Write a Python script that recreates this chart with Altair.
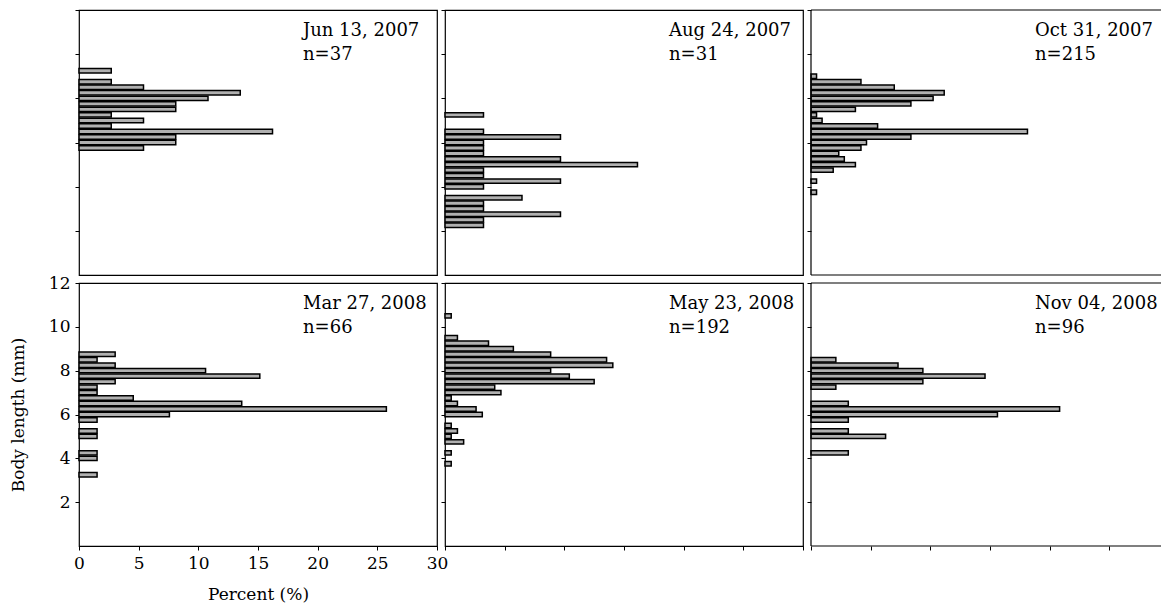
import altair as alt
import pandas as pd

FONT = "DejaVu Serif"

# ---- panel metadata ----
dates = ["Jun 13, 2007", "Aug 24, 2007", "Oct 31, 2007",
         "Mar 27, 2008", "May 23, 2008", "Nov 04, 2008"]
sizes = [37, 31, 215, 66, 192, 96]

# ---- body-length classes (mm) and counts ----
jun_len = [9.25, 8.75, 8.5, 8.25, 8.0, 7.75, 7.5, 7.25, 7.0, 6.75, 6.5, 6.25, 6.0, 5.75]
jun_cnt = [1, 1, 2, 5, 4, 3, 3, 1, 2, 1, 6, 3, 3, 2]

aug_len = [7.25, 6.5, 6.25, 6.0, 5.75, 5.5, 5.25, 5.0, 4.75, 4.5, 4.25, 4.0,
           3.5, 3.25, 3.0, 2.75, 2.5, 2.25]
aug_cnt = [1, 1, 3, 1, 1, 1, 3, 5, 1, 1, 3, 1, 2, 1, 1, 3, 1, 1]

oct_len = [9.0, 8.75, 8.5, 8.25, 8.0, 7.75, 7.5, 7.25, 7.0, 6.75, 6.5, 6.25,
           6.0, 5.75, 5.5, 5.25, 5.0, 4.75, 4.25, 3.75]
oct_cnt = [1, 9, 15, 24, 22, 18, 8, 1, 2, 12, 39, 18, 10, 9, 5, 6, 8, 4, 1, 1]

mar_len = [8.75, 8.5, 8.25, 8.0, 7.75, 7.5, 7.25, 7.0, 6.75, 6.5, 6.25, 6.0,
           5.75, 5.25, 5.0, 4.25, 4.0, 3.25]
mar_cnt = [2, 1, 2, 7, 10, 2, 1, 1, 3, 9, 17, 5, 1, 1, 1, 1, 1, 1]

may_len = [10.5, 9.5, 9.25, 9.0, 8.75, 8.5, 8.25, 8.0, 7.75, 7.5, 7.25, 7.0,
           6.75, 6.5, 6.25, 6.0, 5.5, 5.25, 5.0, 4.75, 4.25, 3.75]
may_cnt = [1, 2, 7, 11, 17, 26, 27, 17, 20, 24, 8, 9, 1, 2, 5, 6, 1, 2, 1, 3, 1, 1]

nov_len = [8.5, 8.25, 8.0, 7.75, 7.5, 7.25, 6.5, 6.25, 6.0, 5.75, 5.25, 5.0, 4.25]
nov_cnt = [2, 7, 9, 14, 9, 2, 3, 20, 15, 3, 3, 6, 3]

x_ticks = [0, 5, 10, 15, 20, 25, 30]
y_ticks = [2, 4, 6, 8, 10, 12]

series = [(jun_len, jun_cnt), (aug_len, aug_cnt), (oct_len, oct_cnt),
          (mar_len, mar_cnt), (may_len, may_cnt), (nov_len, nov_cnt)]

W = 358
H_TOP, H_BOTTOM = 265, 263
W_RIGHT = 350          # right column is cut off by the page edge in the original
X_MAX = 30


def panel(i):
    lengths, counts = series[i]
    n = sizes[i]
    row, col = divmod(i, 3)
    df = pd.DataFrame({"length": lengths, "count": counts})
    w = W_RIGHT if col == 2 else W
    h = H_TOP if row == 0 else H_BOTTOM
    xmax = X_MAX * w / W

    first = (row == 1 and col == 0)
    if row == 1:
        x_axis = alt.Axis(values=x_ticks, labels=first, title="Percent (%)" if first else None,
                          labelFlush=False, labelPadding=5, titlePadding=15)
    else:
        x_axis = None
    y_axis = alt.Axis(values=y_ticks, labels=first, title="Body length (mm)" if first else None,
                      labelFlush=False, labelPadding=5, titlePadding=21)

    bars = alt.Chart(df).transform_calculate(
        pct=f"datum.count / {n} * 100",
        lo="datum.length - 0.1",
        hi="datum.length + 0.1",
    ).mark_bar(fill="#b0b0b0", stroke="#000000", strokeWidth=1.5).encode(
        x=alt.X("pct:Q", scale=alt.Scale(domain=[0, xmax], nice=False), axis=x_axis),
        x2=alt.datum(0),
        y=alt.Y("lo:Q", scale=alt.Scale(domain=[0, 12], nice=False), axis=y_axis),
        y2="hi:Q",
    )

    one = pd.DataFrame({"k": [0]})
    txt = alt.Chart(one).mark_text(
        text=[dates[i], f"n={n}"], align="left", baseline="alphabetic",
        font=FONT, fontSize=18, lineHeight=24, color="black",
    ).encode(x=alt.value(224), y=alt.value(26))

    layers = [bars, txt]
    if col == 2:
        # open-ended frame: the right edge lies beyond the page in the original
        top = alt.Chart(one).mark_rule(color="black", strokeWidth=1.2).encode(
            x=alt.value(0), x2=alt.value(w), y=alt.value(0))
        bottom = alt.Chart(one).mark_rule(color="black", strokeWidth=1.2).encode(
            x=alt.value(0), x2=alt.value(w), y=alt.value(h))
        left = alt.Chart(one).mark_rule(color="black", strokeWidth=1.2).encode(
            x=alt.value(0), y=alt.value(0), y2=alt.value(h))
        layers += [top, bottom, left]
        return alt.layer(*layers).properties(
            width=w, height=h, view=alt.ViewBackground(stroke="transparent"))
    return alt.layer(*layers).properties(width=w, height=h)


chart = alt.concat(*[panel(i) for i in range(6)], columns=3, spacing=8, bounds="flush").properties(
    padding=0
).configure_view(
    stroke="black", strokeWidth=1.2
).configure_axis(
    domain=False, grid=False, tickColor="black", tickSize=4, tickWidth=1,
    labelFont=FONT, titleFont=FONT, labelFontSize=17, titleFontSize=17,
    labelColor="black", titleColor="black", titleFontWeight="normal",
)

chart.save("out.html", embed_options={"renderer": "svg", "actions": False})
